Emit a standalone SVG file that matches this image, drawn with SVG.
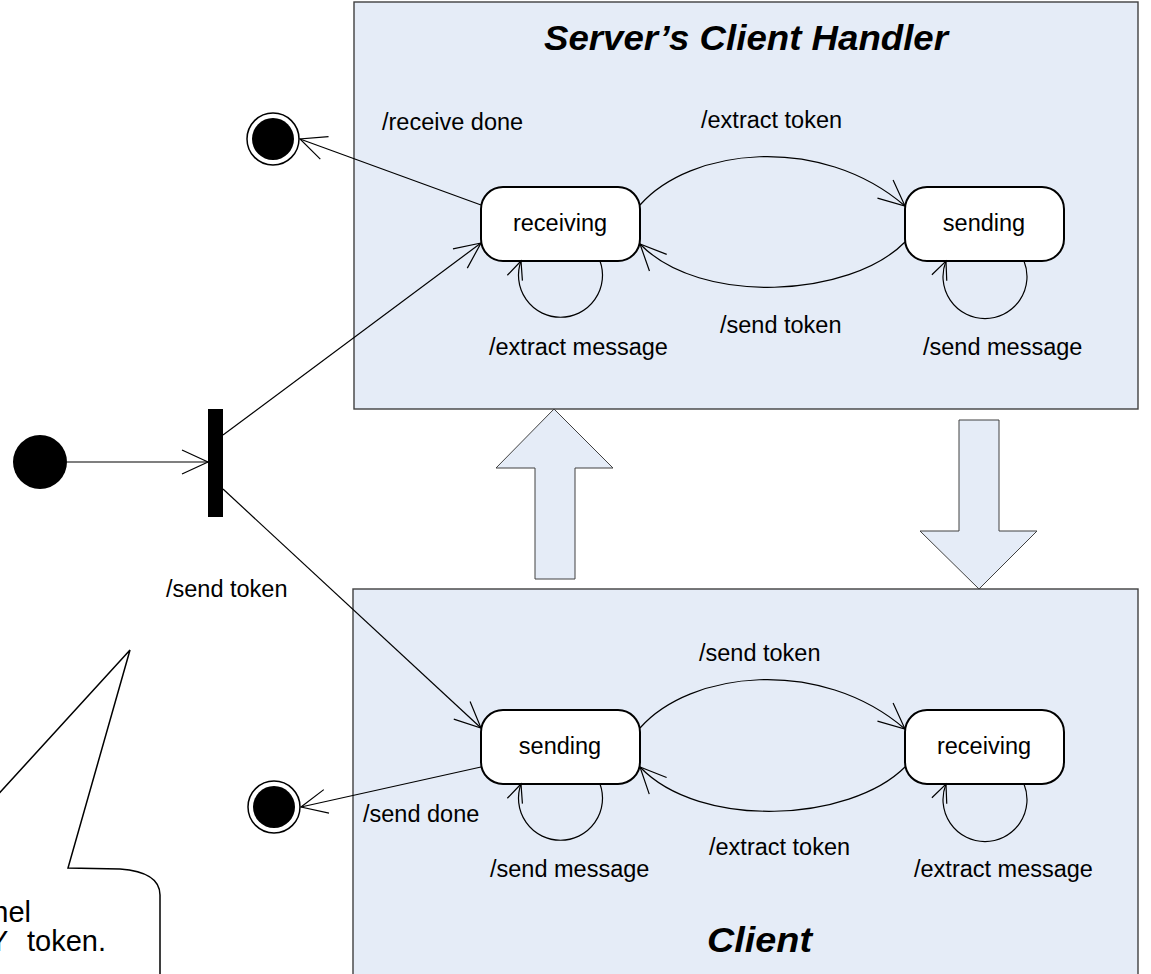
<svg xmlns="http://www.w3.org/2000/svg" width="1151" height="974" viewBox="0 0 1151 974">
<style>
.frame{fill:#E5ECF7;stroke:#404040;stroke-width:1.4}
.big{fill:#E5ECF7;stroke:#404040;stroke-width:1}
.state{fill:#FFFFFF;stroke:#000;stroke-width:2}
.lbl{font-family:"Liberation Sans",Arial,sans-serif;font-size:23.5px;fill:#000}
.ctr{text-anchor:middle}
.title{font-family:"Liberation Sans",Arial,sans-serif;font-size:35px;font-weight:bold;font-style:italic;fill:#000}
.note{font-family:"Liberation Sans",Arial,sans-serif;font-size:29px;fill:#000}
.conn path{fill:none;stroke:#000;stroke-width:1.2}
</style>
<defs>
<marker id="arr" markerUnits="userSpaceOnUse" markerWidth="40" markerHeight="40" viewBox="-30 -20 40 40" refX="0" refY="0" orient="auto">
<path d="M-26,-12 L0,0 L-26,12" fill="none" stroke="#000" stroke-width="1.2"/>
</marker>
<marker id="arrS" markerUnits="userSpaceOnUse" markerWidth="40" markerHeight="40" viewBox="-30 -20 40 40" refX="0" refY="0" orient="auto">
<path d="M-18,-8 L0,0 L-18,8" fill="none" stroke="#000" stroke-width="1.2"/>
</marker>
</defs>
<rect width="1151" height="974" fill="#FFFFFF"/>

<g id="note">
<path d="M-80,880 L130,650 L68,868 L120,869 Q160,872 160,895 L160,980" fill="#FFFFFF" stroke="#000" stroke-width="1.5"/>
<text class="note" x="31" y="922" text-anchor="end">nel</text>
<text class="note" x="-11" y="951">Y <tspan x="27">token.</tspan></text>
</g>

<g id="server-frame">
<rect class="frame" x="354" y="2" width="784" height="407"/>
<text class="title" x="544" y="50" textLength="404" lengthAdjust="spacingAndGlyphs">Server’s Client Handler</text>
</g>
<g id="client-frame">
<rect class="frame" x="353" y="589" width="785" height="400"/>
<text class="title" x="707" y="952" textLength="105" lengthAdjust="spacingAndGlyphs">Client</text>
</g>

<g id="up-arrow">
<polygon class="big" points="554,409 613,468 575,468 575,579 535,579 535,468 496,468"/>
</g>
<g id="down-arrow">
<polygon class="big" points="959,420 999,420 999,531 1037,531 979,589 920,531 959,531"/>
</g>

<g id="initial"><circle cx="40" cy="462" r="27" fill="#000"/></g>
<g id="fork"><rect x="208" y="409" width="15" height="108" fill="#000"/></g>
<g id="final-top"><circle cx="273" cy="139" r="26" fill="#FFF" stroke="#000" stroke-width="1.5"/><circle cx="273" cy="139" r="21" fill="#000"/></g>
<g id="final-bottom"><circle cx="274" cy="807" r="26" fill="#FFF" stroke="#000" stroke-width="1.5"/><circle cx="274" cy="807" r="21" fill="#000"/></g>

<g id="srv-receiving"><rect class="state" x="481" y="187" width="159" height="74" rx="22"/><text class="lbl ctr" x="560" y="231">receiving</text></g>
<g id="srv-sending"><rect class="state" x="905" y="187" width="159" height="74" rx="22"/><text class="lbl ctr" x="984" y="231">sending</text></g>
<g id="cli-sending"><rect class="state" x="481" y="710" width="159" height="74" rx="22"/><text class="lbl ctr" x="560" y="754">sending</text></g>
<g id="cli-receiving"><rect class="state" x="905" y="710" width="159" height="74" rx="22"/><text class="lbl ctr" x="984" y="754">receiving</text></g>

<g class="conn" id="connectors">
<path d="M67,462 H208" marker-end="url(#arr)"/>
<path d="M223,435 L481,243" marker-end="url(#arr)"/>
<path d="M223,489 L481,728" marker-end="url(#arr)"/>
<path d="M481,205 L300,139" marker-end="url(#arr)"/>
<path d="M481,767 L301,807" marker-end="url(#arr)"/>
<path d="M640,205 C690,148 820,133 905,206" marker-end="url(#arr)"/>
<path d="M905,242 C850,298 700,306 640,244" marker-end="url(#arr)"/>
<path d="M640,728 C690,671 820,656 905,729" marker-end="url(#arr)"/>
<path d="M905,767 C850,822 700,830 640,767" marker-end="url(#arr)"/>
<path d="M600,261 A42,42 0 1 1 521,261" marker-end="url(#arrS)"/>
<path d="M1024,261 A42,42 0 1 1 946,261" marker-end="url(#arrS)"/>
<path d="M600,784 A42,42 0 1 1 521,784" marker-end="url(#arrS)"/>
<path d="M1024,784 A42,42 0 1 1 946,784" marker-end="url(#arrS)"/>
</g>

<g id="labels">
<text class="lbl" x="382" y="130">/receive done</text>
<text class="lbl" x="701" y="128">/extract token</text>
<text class="lbl" x="720" y="333">/send token</text>
<text class="lbl" x="489" y="355">/extract message</text>
<text class="lbl" x="923" y="355">/send message</text>
<text class="lbl" x="166" y="597">/send token</text>
<text class="lbl" x="699" y="661">/send token</text>
<text class="lbl" x="363" y="822">/send done</text>
<text class="lbl" x="709" y="855">/extract token</text>
<text class="lbl" x="490" y="877">/send message</text>
<text class="lbl" x="914" y="877">/extract message</text>
</g>
</svg>
